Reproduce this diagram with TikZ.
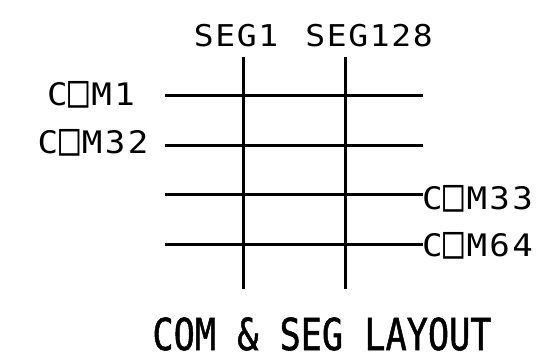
\documentclass[tikz,border=0pt]{standalone}
\usepackage{fontspec}
\setmainfont{DejaVu Sans Mono}
\newfontfamily\seglblfont[LetterSpace=5]{DejaVu Sans Mono}
\newfontfamily\comlblfont[LetterSpace=7]{DejaVu Sans Mono}
\newfontfamily\ttlfont[FakeBold=1.3]{DejaVu Sans Mono}
\newcommand{\sqo}{\kern1pt\raisebox{-1.5pt}{\scalebox{1}[1.45]{□}}\kern2pt}
\tikzset{
  wire/.style={line width=3pt,black},
  seglbl/.style={inner sep=0pt,font=\fontsize{30}{30}\seglblfont,xscale=1.1},
  comlbl/.style={inner sep=0pt,font=\fontsize{31}{31}\comlblfont,xscale=1.1},
  ttl/.style={inner sep=0pt,font=\fontsize{44}{44}\ttlfont,xscale=.8},
}
\begin{document}
\begin{tikzpicture}[x=1pt,y=-1pt]
\useasboundingbox (0,0) rectangle (541,360);
\node[seglbl,anchor=center] (seg1) at (236,36) {SEG1};
\node[seglbl,anchor=center] (seg128) at (369,36) {SEG128};
\node[comlbl,anchor=center] (com1) at (91,95) {C\sqo M1};
\node[comlbl,anchor=center] (com32) at (93,143) {C\sqo M32};
\node[comlbl,anchor=west] (com33) at (422,199) {C\sqo M33};
\node[comlbl,anchor=west] (com64) at (422,246) {C\sqo M64};
\node[ttl,anchor=center] (title) at (322,334) {COM \& SEG LAYOUT};
\coordinate (v1t) at (243,57); \coordinate (v1b) at (243,289);
\coordinate (v2t) at (345,57); \coordinate (v2b) at (345,289);
\coordinate (h1l) at (165,95); \coordinate (h1r) at (423,95);
\coordinate (h2l) at (165,145); \coordinate (h2r) at (423,145);
\coordinate (h3l) at (165,194); \coordinate (h3r) at (423,194);
\coordinate (h4l) at (165,244); \coordinate (h4r) at (423,244);
\draw[wire] (v1t) -- (v1b);
\draw[wire] (v2t) -- (v2b);
\draw[wire] (h1l) -- (h1r);
\draw[wire] (h2l) -- (h2r);
\draw[wire] (h3l) -- (h3r);
\draw[wire] (h4l) -- (h4r);
\end{tikzpicture}
\end{document}
